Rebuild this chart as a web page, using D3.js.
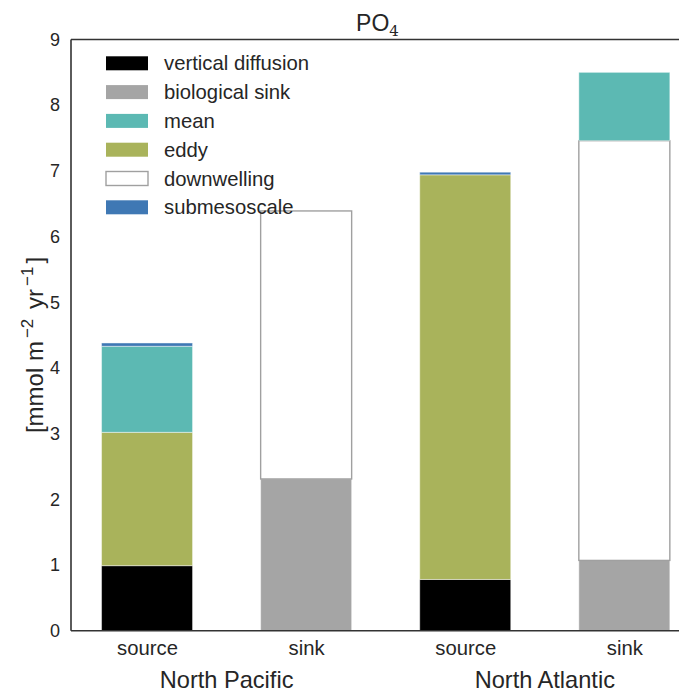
<!DOCTYPE html>
<html>
<head>
<meta charset="utf-8">
<script src="https://cdn.jsdelivr.net/npm/d3@7"></script>
<style>
  html, body { margin: 0; padding: 0; background: #fff; }
  svg { display: block; font-family: "Liberation Sans", Arial, sans-serif; }
</style>
</head>
<body>
<svg id="chart" width="679" height="693"></svg>
<script>
// ---- data ----
const regions = ["North Pacific", "North Atlantic"];
const barLabels = ["source", "sink", "source", "sink"];
const seriesNames = ["vertical diffusion", "biological sink", "eddy", "downwelling", "mean", "submesoscale"];
const verticalDiffusion = [0.99, 0, 0.78, 0];
const biologicalSink   = [0, 2.31, 0, 1.07];
const eddy             = [2.03, 0, 6.16, 0];
const downwelling      = [0, 4.08, 0, 6.39];
const meanFlux         = [1.31, 0, 0, 1.04];
const submesoscale     = [0.05, 0, 0.04, 0];
const yTicks = [0, 1, 2, 3, 4, 5, 6, 7, 8, 9];
const legendOrder = ["vertical diffusion", "biological sink", "mean", "eddy", "downwelling", "submesoscale"];

const colors = {
  "vertical diffusion": "#000000",
  "biological sink": "#a5a5a5",
  "mean": "#5cb9b3",
  "eddy": "#a9b35b",
  "downwelling": "#ffffff",
  "submesoscale": "#3f78b4"
};
const seriesValues = {
  "vertical diffusion": verticalDiffusion,
  "biological sink": biologicalSink,
  "eddy": eddy,
  "downwelling": downwelling,
  "mean": meanFlux,
  "submesoscale": submesoscale
};

const svg = d3.select("#chart");
const plot = { left: 71, right: 684, top: 39.5, bottom: 630.7 };

const x = d3.scaleLinear().domain([-0.478, 3.375]).range([plot.left, plot.right]);
const y = d3.scaleLinear().domain([0, 9]).range([plot.bottom, plot.top]);
const barW = x(0.572) - x(0);

// stacked data
const rows = barLabels.map((b, i) => {
  const r = { idx: i };
  seriesNames.forEach(s => r[s] = seriesValues[s][i]);
  return r;
});
const stack = d3.stack().keys(seriesNames)(rows);

const g = svg.append("g");
stack.forEach(layer => {
  const name = layer.key;
  g.selectAll(null)
    .data(layer.filter(d => d[1] - d[0] > 0))
    .enter().append("rect")
    .attr("x", d => x(d.data.idx) - barW / 2)
    .attr("width", barW)
    .attr("y", d => y(d[1]))
    .attr("height", d => y(d[0]) - y(d[1]))
    .attr("fill", colors[name])
    .attr("stroke", name === "downwelling" ? "#a0a0a0" : "rgba(255,255,255,0.45)")
    .attr("stroke-width", name === "downwelling" ? 1.4 : 1);
});

// frame
svg.append("line").attr("x1", plot.left).attr("x2", plot.right + 40)
  .attr("y1", plot.top).attr("y2", plot.top)
  .attr("stroke", "#333").attr("stroke-width", 1.6);
svg.append("line").attr("x1", plot.left).attr("x2", plot.right + 40)
  .attr("y1", plot.bottom).attr("y2", plot.bottom)
  .attr("stroke", "#333").attr("stroke-width", 1.6);
svg.append("line").attr("x1", plot.left).attr("x2", plot.left)
  .attr("y1", plot.top).attr("y2", plot.bottom)
  .attr("stroke", "#333").attr("stroke-width", 1.6);

// y axis labels
const yAxis = d3.axisLeft(y).tickValues(yTicks).tickSize(0).tickPadding(11).tickFormat(d3.format("d"));
const ya = svg.append("g").attr("transform", `translate(${plot.left},0)`).call(yAxis);
ya.select(".domain").remove();
ya.selectAll("text").attr("font-size", 18).attr("fill", "#262626")
  .attr("font-family", "Liberation Sans, Arial, sans-serif");

// x axis labels
const xAxis = d3.axisBottom(x).tickValues(d3.range(barLabels.length)).tickSize(0).tickPadding(10)
  .tickFormat(i => barLabels[i]);
const xa = svg.append("g").attr("transform", `translate(0,${plot.bottom})`).call(xAxis);
xa.select(".domain").remove();
xa.selectAll("text").attr("font-size", 20.3).attr("fill", "#262626")
  .attr("font-family", "Liberation Sans, Arial, sans-serif");

// region labels
regions.forEach((r, k) => {
  svg.append("text")
    .attr("x", (x(2 * k) + x(2 * k + 1)) / 2)
    .attr("y", 688)
    .attr("text-anchor", "middle")
    .attr("font-size", 23.6)
    .attr("fill", "#262626")
    .text(r);
});

// title
const title = svg.append("text")
  .attr("x", (plot.left + plot.right) / 2)
  .attr("y", 31)
  .attr("text-anchor", "middle")
  .attr("font-size", 23)
  .attr("fill", "#262626");
title.append("tspan").text("PO");
title.append("tspan").attr("font-size", 15).attr("dy", 5).attr("font-family", "DejaVu Serif, serif").text("4");

// y label
const yl = svg.append("text")
  .attr("transform", `translate(43,345) rotate(-90)`)
  .attr("text-anchor", "middle")
  .attr("font-size", 24)
  .attr("fill", "#262626");
yl.append("tspan").text("[mmol m");
yl.append("tspan").attr("font-size", 17).attr("dx", 3).attr("dy", -10).text("\u22122");
yl.append("tspan").attr("dx", 3).attr("dy", 10).text(" yr");
yl.append("tspan").attr("font-size", 17).attr("dx", 3).attr("dy", -10).text("\u22121");
yl.append("tspan").attr("dx", 3).attr("dy", 10).text("]");

// legend
const leg = svg.append("g");
legendOrder.forEach((name, i) => {
  const cy = 63.3 + 28.8 * i;
  leg.append("rect")
    .attr("x", 106).attr("y", cy - 7).attr("width", 42).attr("height", 14)
    .attr("fill", colors[name])
    .attr("stroke", name === "downwelling" ? "#a0a0a0" : "none")
    .attr("stroke-width", 1.4);
  leg.append("text")
    .attr("x", 164).attr("y", cy)
    .attr("dy", "0.35em")
    .attr("font-size", 20.3)
    .attr("fill", "#262626")
    .text(name);
});
</script>
</body>
</html>
